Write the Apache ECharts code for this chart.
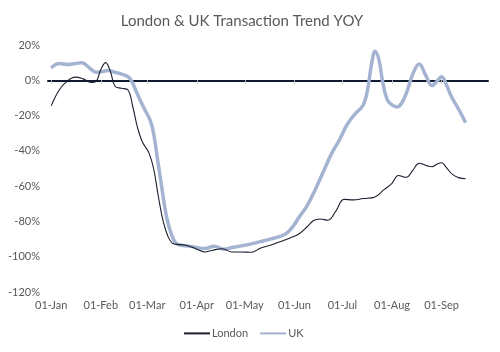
<!DOCTYPE html>
<html>
<head>
<meta charset="utf-8">
<script src="https://cdn.jsdelivr.net/npm/echarts@6/dist/echarts.min.js"></script>
<style>
html, body { margin: 0; padding: 0; background: #fff; }
#main { width: 500px; height: 352px; }
</style>
</head>
<body>
<div id="main"></div>
<script>
// days counted from 01-Jan-2020
var londonDays = [0, 5, 10, 15, 20, 25, 28, 31, 34, 37, 40, 44, 48, 51, 54, 57, 61, 64, 67, 70, 73, 76, 79, 84, 90, 96, 101, 107, 113, 119, 125, 131, 137, 143, 149, 155, 160, 164, 168, 173, 178, 183, 189, 195, 202, 208, 213, 217, 222, 226, 230, 235, 238, 241, 244, 247, 251, 255, 259];
var londonValues = [-14.5, -5.5, -0.5, 1.8, 0.8, -1.2, -0.7, 6, 10, 5, -3.5, -4.5, -5.5, -15, -27, -35, -41, -50, -66, -80, -88.5, -92.5, -93, -93.5, -95.3, -97.3, -96.3, -95.5, -97.3, -97.3, -97.5, -95, -93.5, -91.5, -89.5, -87, -83, -79.5, -78.6, -79.3, -74, -67.5, -67.8, -67, -66.3, -62, -58.4, -54, -55, -51, -47, -48.5, -49, -47.6, -46.7, -49.5, -53.5, -55.3, -55.8];

var ukDays = [0, 5, 10, 15, 19, 24, 28, 32, 36, 40, 44, 48, 50, 53, 56, 59, 62, 64, 66, 69, 72, 75, 78, 81, 86, 91, 96, 102, 108, 113, 118, 124, 130, 137, 143, 147, 151, 155, 160, 165, 170, 175, 180, 185, 190, 195, 198, 200, 202.5, 205, 207, 210, 213, 216, 221, 226, 230, 234, 238, 241, 244, 247, 250, 255, 259];
var ukValues = [7, 9.5, 9, 9.5, 10, 7, 4.5, 5, 5.5, 4.5, 3.5, 2, 0, -6, -12, -17.5, -23, -30, -42, -60, -77, -87, -92.5, -93.5, -94, -94.8, -95.3, -94, -95.8, -94.8, -94, -93, -91.6, -90, -88.5, -86.8, -83, -77.5, -71, -62, -52, -42, -34, -25, -19, -14, -4, 8, 16.4, 11, 0, -11, -14, -15.2, -9.5, 3.5, 9.2, 3, -3, -0.7, 2, -2.6, -9, -17, -24];

// tick positions (day of month start) and their labels
var monthStarts = [0, 31, 60, 91, 121, 152, 182, 213, 244];
var monthLabels = ['01-Jan', '01-Feb', '01-Mar', '01-Apr', '01-May', '01-Jun', '01-Jul', '01-Aug', '01-Sep'];

function toPairs(days, vals) {
    return days.map(function (d, i) { return [d, vals[i]]; });
}

var chart = echarts.init(document.getElementById('main'));
var font = 'Lato, "Open Sans", sans-serif';
var option = {
    animation: false,
    title: {
        text: 'London & UK Transaction Trend YOY',
        left: 237, top: 9, textAlign: 'center',
        textStyle: { fontFamily: font, fontSize: 15, fontWeight: 'normal', color: '#595959' }
    },
    legend: {
        bottom: 8, left: 178,
        itemWidth: 26, itemGap: 11,
        itemStyle: { opacity: 0 },
        textStyle: { fontFamily: font, fontSize: 11, color: '#595959', padding: [0, 0, 0, -3] },
        data: ['London', 'UK']
    },
    grid: { left: 48, right: 12, top: 45, bottom: 60 },
    xAxis: [{
        type: 'value',
        position: 'top',
        min: -2, max: 273,
        axisLine: { onZero: true, lineStyle: { color: '#111a2e', width: 2 } },
        axisTick: { show: true, inside: true, length: 4, lineStyle: { color: '#c8c8c8' }, customValues: monthStarts },
        axisLabel: { show: false },
        splitLine: { show: false }
    }, {
        type: 'value',
        position: 'bottom',
        min: -2, max: 273,
        axisLine: { show: false, onZero: false },
        axisTick: { show: false },
        splitLine: { show: false },
        axisLabel: {
            margin: 8,
            fontFamily: font, fontSize: 11, color: '#595959',
            customValues: monthStarts,
            formatter: function (v) {
                return monthLabels[monthStarts.indexOf(v)];
            }
        }
    }],
    yAxis: {
        type: 'value',
        min: -120, max: 20, interval: 20,
        axisLine: { show: false },
        axisTick: { show: false },
        splitLine: { show: false },
        axisLabel: { margin: 8, fontFamily: font, fontSize: 11, color: '#595959', formatter: '{value}%' }
    },
    series: [{
        name: 'London',
        type: 'line',
        xAxisIndex: 0,
        smooth: 0.4,
        symbol: 'none',
        lineStyle: { color: '#1b1f2e', width: 1.1 },
        itemStyle: { color: '#1b1f2e' },
        data: toPairs(londonDays, londonValues)
    }, {
        name: 'UK',
        type: 'line',
        xAxisIndex: 0,
        smooth: 0.4,
        symbol: 'none',
        z: 1,
        lineStyle: { color: '#a4b3d1', width: 3.5 },
        itemStyle: { color: '#a4b3d1' },
        data: toPairs(ukDays, ukValues)
    }]
};
chart.setOption(option);
</script>
</body>
</html>
